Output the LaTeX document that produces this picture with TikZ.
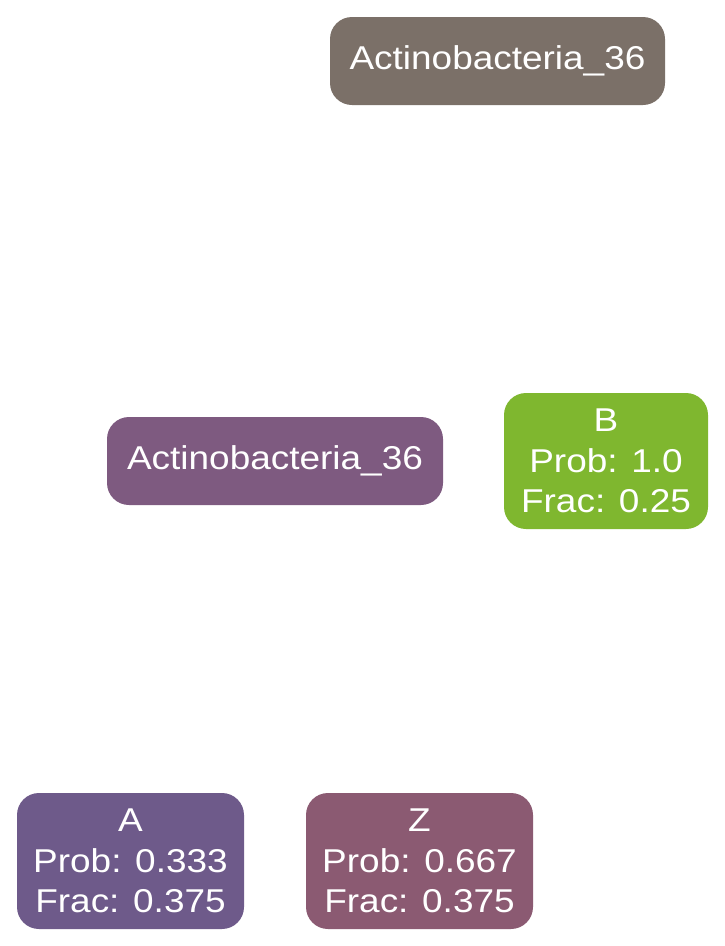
\documentclass[tikz,border=0pt]{standalone}
\usepackage{fontspec}
\setmainfont[FakeStretch=1.12]{Liberation Sans}
\definecolor{ctop}{HTML}{7B7068}
\definecolor{cmid}{HTML}{7E5A80}
\definecolor{cB}{HTML}{7FB72F}
\definecolor{cA}{HTML}{6E5A8A}
\definecolor{cZ}{HTML}{8B5A72}
\begin{document}
\begin{tikzpicture}[x=1pt,y=-1pt,
  box/.style={rounded corners=22pt, inner sep=0pt, align=center, text=white,
    font=\fontsize{33}{40.5}\selectfont}]
\useasboundingbox (0,0) rectangle (724,946);
\node[box, fill=ctop, minimum width=335pt, minimum height=88pt] (top) at (497.5,61) {Actinobacteria\_36};
\node[box, fill=cmid, minimum width=336pt, minimum height=88pt] (mid) at (275,461) {Actinobacteria\_36};
\node[box, fill=cB, minimum width=204pt, minimum height=136pt] (B) at (606,461) {B\\Prob: 1.0\\Frac: 0.25};
\node[box, fill=cA, minimum width=227pt, minimum height=136pt] (A) at (130.5,861) {A\\Prob: 0.333\\Frac: 0.375};
\node[box, fill=cZ, minimum width=227pt, minimum height=136pt] (Z) at (419.5,861) {Z\\Prob: 0.667\\Frac: 0.375};
\end{tikzpicture}
\end{document}
